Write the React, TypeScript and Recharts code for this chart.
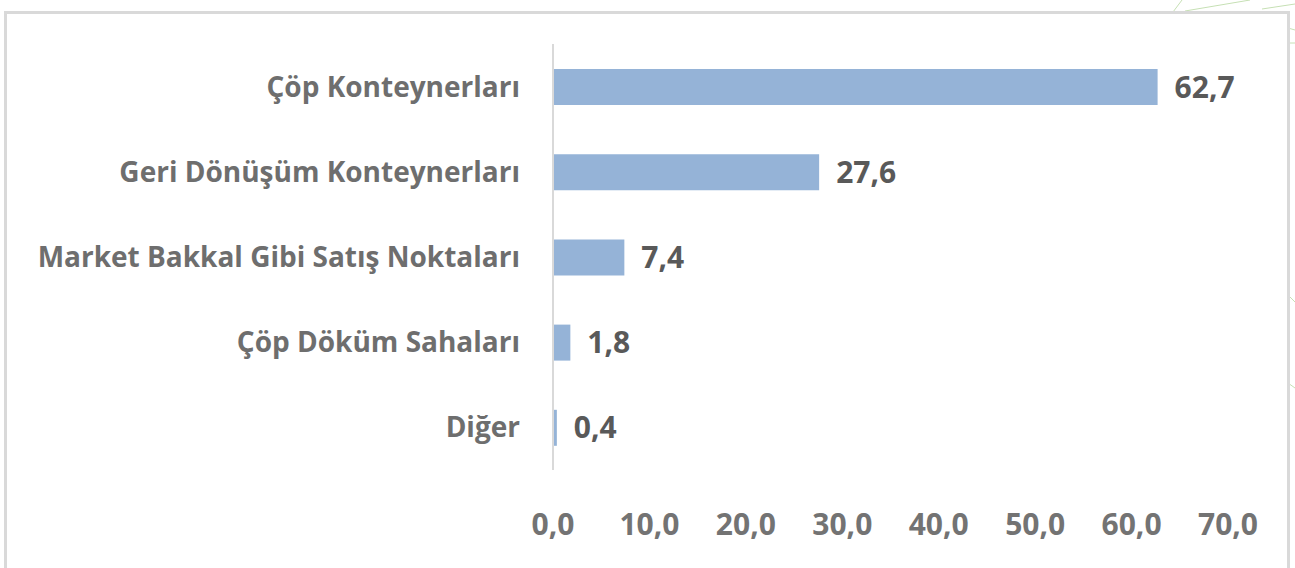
import { Bar, BarChart, LabelList, XAxis, YAxis } from "recharts";

const categories = [
  "Çöp Konteynerları",
  "Geri Dönüşüm Konteynerları",
  "Market Bakkal Gibi Satış Noktaları",
  "Çöp Döküm Sahaları",
  "Diğer",
];
const shares = [62.7, 27.6, 7.4, 1.8, 0.4];
const xTicks = [0, 10, 20, 30, 40, 50, 60, 70];

const data = categories.map((name, i) => ({ name, value: shares[i] }));

const fmt = (v: number) => v.toFixed(1).replace(".", ",");

const FONT = "'Open Sans', sans-serif";

export default function App() {
  return (
    <div
      style={{
        position: "absolute",
        left: 0,
        top: 0,
        width: 1295,
        height: 568,
        background: "#fff",
        overflow: "hidden",
        fontFamily: FONT,
      }}
    >
      {/* thin green decoration behind the frame */}
      <svg
        width={1295}
        height={568}
        style={{ position: "absolute", left: 0, top: 0 }}
      >
        <g stroke="#c6e0b4" strokeWidth={1} fill="none">
          <line x1={1173} y1={12} x2={1182} y2={0} />
          <line x1={1185} y1={11} x2={1250} y2={0} />
          <line x1={1262} y1={9} x2={1295} y2={4} />
          <line x1={1288} y1={28} x2={1295} y2={30} />
          <line x1={1288} y1={43} x2={1295} y2={43} />
          <line x1={1288} y1={295} x2={1295} y2={302} />
          <line x1={1288} y1={383} x2={1295} y2={388} />
        </g>
      </svg>
      <div
        style={{
          position: "absolute",
          left: 4,
          top: 11,
          width: 1280,
          height: 600,
          border: "3px solid #d9d9d9",
          background: "#fff",
        }}
      />
      <div style={{ position: "absolute", left: 0, top: 0 }}>
        <BarChart
          width={1295}
          height={568}
          data={data}
          layout="vertical"
          margin={{ top: 44, right: 67, bottom: 0, left: 0 }}
          barCategoryGap={0}
        >
          <XAxis
            type="number"
            domain={[0, 70]}
            ticks={xTicks}
            tickFormatter={fmt}
            axisLine={false}
            tickLine={false}
            tickSize={6}
            tickMargin={38}
            height={98}
            interval={0}
            tick={{ fill: "#737373", fontSize: 30, fontWeight: 700, fontFamily: FONT }}
          />
          <YAxis
            type="category"
            dataKey="name"
            width={553}
            axisLine={{ stroke: "#d9d9d9", strokeWidth: 2 }}
            tickLine={false}
            tickSize={0}
            tickMargin={33}
            interval={0}
            tick={{ fill: "#6e6e6e", fontSize: 28, fontWeight: 700, fontFamily: FONT }}
          />
          <Bar dataKey="value" fill="#95b3d7" barSize={36} isAnimationActive={false}>
            <LabelList
              dataKey="value"
              position="right"
              offset={17}
              formatter={(v: any) => fmt(Number(v))}
              style={{ fill: "#595959", fontSize: 30, fontWeight: 700, fontFamily: FONT }}
            />
          </Bar>
        </BarChart>
      </div>
    </div>
  );
}
